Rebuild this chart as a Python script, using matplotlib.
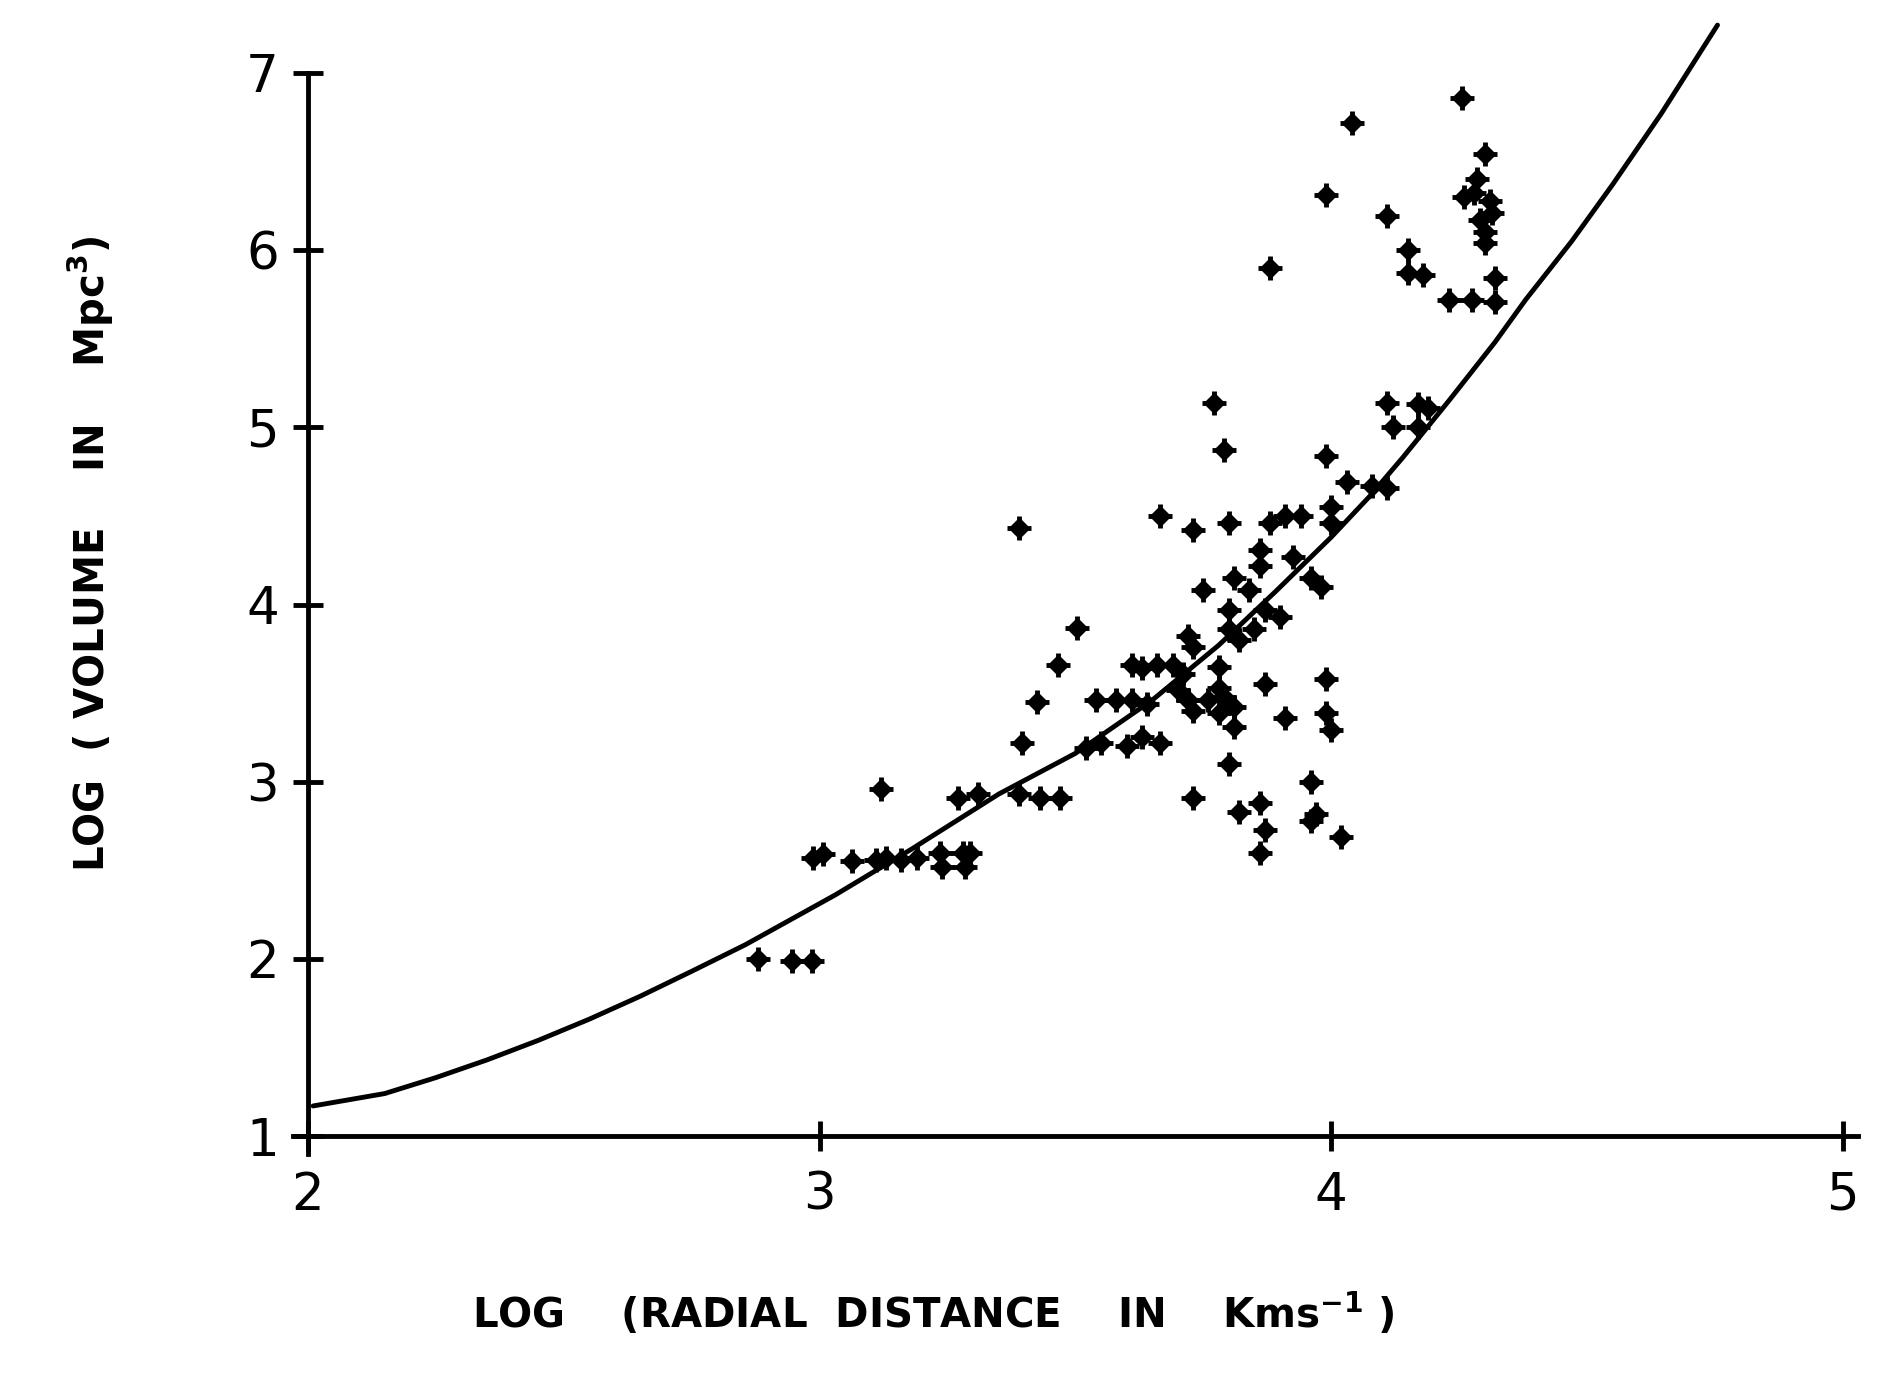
import matplotlib
matplotlib.use("Agg")
import matplotlib.pyplot as plt

# fitted curve
curve_x = [2.01, 2.15, 2.25, 2.35, 2.45, 2.55, 2.65, 2.75, 2.855, 2.955, 3.03,
           3.18, 3.35, 3.50, 3.65, 3.78, 3.89, 4.00, 4.075, 4.14, 4.23, 4.32,
           4.38, 4.47, 4.55, 4.645, 4.755]
curve_y = [1.17, 1.24, 1.33, 1.43, 1.54, 1.66, 1.79, 1.93, 2.08, 2.24, 2.36,
           2.62, 2.93, 3.16, 3.46, 3.77, 4.07, 4.38, 4.61, 4.83, 5.15, 5.48,
           5.72, 6.05, 6.37, 6.77, 7.27]

# the plotted points (log radial distance, log volume)
pts_x = [2.88, 2.946, 2.985, 2.987, 3.006, 3.063, 3.11, 3.13, 3.16, 3.19,
         3.235, 3.24, 3.28, 3.284, 3.294, 3.12, 3.27, 3.31, 3.39, 3.43,
         3.47, 3.395, 3.425, 3.466, 3.503, 3.39, 3.52, 3.55, 3.54, 3.58,
         3.61, 3.64, 3.61, 3.63, 3.66, 3.69, 3.71, 3.665, 3.73, 3.80,
         3.88, 3.91, 3.94, 3.86, 3.86, 3.925, 3.96, 3.98, 3.75, 3.81,
         3.84, 3.80, 3.80, 3.82, 3.85, 3.87, 3.90, 3.72, 3.73, 3.78,
         3.78, 3.70, 3.72, 3.76, 3.79, 3.81, 3.73, 3.78, 3.81, 3.63,
         3.665, 3.60, 3.87, 3.99, 3.91, 3.99, 4.00, 3.80, 3.96, 3.73,
         3.82, 3.86, 3.87, 3.96, 3.97, 4.02, 3.86, 4.00, 4.00, 3.77,
         3.79, 3.99, 4.03, 4.08, 4.11, 4.11, 4.12, 4.17, 4.19, 4.17,
         4.255, 4.04, 4.30, 4.285, 4.28, 4.26, 4.31, 4.315, 4.29, 4.30,
         4.30, 3.99, 4.11, 4.15, 4.15, 4.18, 3.88, 4.23, 4.275, 4.32,
         4.32]
pts_y = [2.00, 1.99, 1.99, 2.57, 2.59, 2.55, 2.56, 2.57, 2.56, 2.57,
         2.60, 2.52, 2.60, 2.52, 2.60, 2.96, 2.91, 2.93, 2.93, 2.91,
         2.91, 3.22, 3.45, 3.66, 3.87, 4.43, 3.19, 3.22, 3.46, 3.46,
         3.46, 3.44, 3.66, 3.64, 3.66, 3.66, 3.61, 4.50, 4.42, 4.46,
         4.46, 4.50, 4.50, 4.31, 4.22, 4.27, 4.15, 4.10, 4.08, 4.15,
         4.08, 3.97, 3.86, 3.80, 3.86, 3.97, 3.93, 3.82, 3.76, 3.65,
         3.53, 3.52, 3.46, 3.46, 3.48, 3.42, 3.40, 3.39, 3.31, 3.25,
         3.22, 3.20, 3.55, 3.58, 3.36, 3.39, 3.29, 3.10, 3.00, 2.91,
         2.83, 2.88, 2.73, 2.78, 2.82, 2.69, 2.60, 4.55, 4.46, 5.14,
         4.87, 4.84, 4.69, 4.67, 4.66, 5.14, 5.00, 5.13, 5.11, 5.00,
         6.86, 6.72, 6.54, 6.40, 6.32, 6.30, 6.28, 6.21, 6.17, 6.10,
         6.04, 6.31, 6.19, 6.00, 5.87, 5.86, 5.90, 5.72, 5.72, 5.71,
         5.84]

x_ticks = [2, 3, 4, 5]
y_ticks = [1, 2, 3, 4, 5, 6, 7]

fig = plt.figure(figsize=(18.99, 13.81), dpi=100)
ax = fig.add_axes([0.1487, 0.1581, 0.8352, 0.8340])

ax.plot(curve_x, curve_y, color="black", lw=3.5, solid_capstyle="round",
        solid_joinstyle="round")
ax.plot(pts_x, pts_y, "D", color="black", ms=10, zorder=3)
ax.plot(pts_x, pts_y, "+", color="black", ms=17, mew=3.5, zorder=3)

ax.set_xlim(1.95, 5.05)
ax.set_ylim(0.85, 7.35)
ax.spines["top"].set_visible(False)
ax.spines["right"].set_visible(False)
ax.spines["left"].set_position(("data", 2))
ax.spines["bottom"].set_position(("data", 1))
ax.spines["left"].set_bounds(0.9, 7)
ax.spines["bottom"].set_bounds(1.97, 5.03)
for s in ("left", "bottom"):
    ax.spines[s].set_linewidth(3.5)

ax.set_xticks(x_ticks)
ax.set_yticks(y_ticks)
ax.tick_params(direction="inout", length=22, width=3.5, labelsize=37)
ax.tick_params(axis="y", pad=10)
ax.tick_params(axis="x", pad=14)

fig.text(91 / 1899, 1 - 554 / 1381,
         "LOG  ( VOLUME    IN    Mpc$^{\\mathbf{3}}$)",
         rotation=90, ha="center", va="center", fontsize=29,
         fontweight="bold")
fig.text(933 / 1899, 1 - 1314 / 1381,
         "LOG    (RADIAL  DISTANCE    IN    Kms$^{\\mathbf{-1}}$ )",
         ha="center", va="center", fontsize=29, fontweight="bold")

fig.savefig("out.png", dpi=100)
